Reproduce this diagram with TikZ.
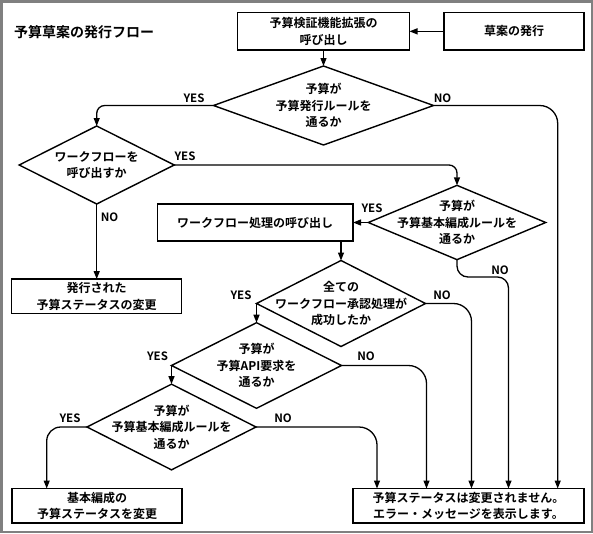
\documentclass[tikz,border=0pt]{standalone}
\usepackage{fontspec}
\setmainfont{Noto Sans CJK JP}[BoldFont={Noto Sans CJK JP Bold}]
\usetikzlibrary{shapes.geometric,arrows.meta}
\begin{document}
\begin{tikzpicture}[x=1pt,y=-1pt,
  txt/.style={font=\fontsize{12}{16.5}\selectfont\bfseries, align=center, inner sep=0pt},
  box/.style={draw, line width=1.4pt, inner sep=0pt, outer sep=0pt, font=\fontsize{12}{16.5}\selectfont\bfseries, align=center},
  dia/.style={draw, diamond, line width=1.4pt, inner sep=0pt, outer sep=0pt},
  lbl/.style={font=\fontsize{11.5}{12}\selectfont\bfseries, inner sep=0pt},
  arr/.style={line width=1.3pt, -{Triangle[length=8pt,width=6pt]}},
  ln/.style={line width=1.3pt}]
\useasboundingbox (0,0) rectangle (593,533);
\draw[line width=2.5pt, draw={rgb,255:red,128;green,128;blue,128}] (1.25,1.25) rectangle (591.75,531.75);

\node[font=\fontsize{14}{16}\selectfont\bfseries, anchor=west, inner sep=0pt] (title) at (14,32) {予算草案の発行フロー};

% boxes
\node[box, minimum width=172pt, minimum height=37.3pt] (b1) at (323.5,31.35) {予算検証機能拡張の\\呼び出し};
\node[box, minimum width=140pt, minimum height=37.3pt] (b2) at (514,31.35) {草案の発行};
\node[box, minimum width=170pt, minimum height=34.3pt] (b3) at (96.7,296.2) {発行された\\予算ステータスの変更};
\node[box, minimum width=195.7pt, minimum height=37pt] (b4) at (255.2,222.5) {ワークフロー処理の呼び出し};
\node[box, minimum width=170pt, minimum height=34.5pt] (b5) at (97,505.75) {基本編成の\\予算ステータスを変更};
\node[box, minimum width=231pt, minimum height=34.5pt] (b6) at (468.5,505.75) {予算ステータスは変更されません。\\エラー・メッセージを表示します。};

% diamonds
\node[dia, minimum width=220pt, minimum height=79pt] (d1) at (323.5,105.5) {};
\node[txt] (d1t) at (d1.center) {予算が\\予算発行ルールを\\通るか};
\node[dia, minimum width=155pt, minimum height=78pt] (d2) at (96.7,165) {};
\node[txt] (d2t) at (d2.center) {ワークフローを\\呼び出すか};
\node[dia, minimum width=177.4pt, minimum height=74.3pt] (d3) at (457,222.5) {};
\node[txt] (d3t) at (d3.center) {予算が\\予算基本編成ルールを\\通るか};
\node[dia, minimum width=169pt, minimum height=86pt] (d4) at (341,303.5) {};
\node[txt] (d4t) at (d4.center) {全ての\\ワークフロー承認処理が\\成功したか};
\node[dia, minimum width=170pt, minimum height=85.6pt] (d5) at (256.5,365.5) {};
\node[txt] (d5t) at (d5.center) {予算が\\予算API要求を\\通るか};
\node[dia, minimum width=169pt, minimum height=85.7pt] (d6) at (171.5,427) {};
\node[txt] (d6t) at (d6.center) {予算が\\予算基本編成ルールを\\通るか};

% helper x positions
\coordinate (xa) at (46.7,0);
\coordinate (xb) at (377,0);
\coordinate (xc) at (426.5,0);
\coordinate (xd) at (471.5,0);
\coordinate (xe) at (508.5,277);
\coordinate (xf) at (557.7,0);

% connectors
\draw[arr] (b2.west) -- (b1.east);
\draw[arr] (b1.south) -- (d1.north);
\draw[arr, rounded corners=8pt] (d1.west) -| (d2.north);
\draw[arr, rounded corners=18pt] (d1.east) -| (b6.north -| xf);
\draw[arr, rounded corners=8pt] (d2.east) -| (d3.north);
\draw[arr] (d2.south) -- (b3.north);
\draw[arr] (d3.west) -- (b4.east);
\draw[arr, rounded corners=11pt] (d3.south) |- (xe) -- (b6.north -| xe);
\draw[arr] (b4.south -| d4.north) -- (d4.north);
\draw[arr] (d4.west) -- (d5.north);
\draw[arr, rounded corners=18pt] (d4.east) -| (b6.north -| xd);
\draw[arr] (d5.west) -- (d6.north);
\draw[arr, rounded corners=18pt] (d5.east) -| (b6.north -| xc);
\draw[arr, rounded corners=14pt] (d6.west) -| (b5.north -| xa);
\draw[arr, rounded corners=18pt] (d6.east) -| (b6.north -| xb);

% labels
\node[lbl] (l1) at (194,98) {YES};
\node[lbl] (l2) at (442.5,98) {NO};
\node[lbl] (l3) at (185,156) {YES};
\node[lbl] (l4) at (109.5,217) {NO};
\node[lbl] (l5) at (372,208) {YES};
\node[lbl] (l6) at (500,270) {NO};
\node[lbl] (l7) at (241,295) {YES};
\node[lbl] (l8) at (442,295) {NO};
\node[lbl] (l9) at (157.5,356.7) {YES};
\node[lbl] (l10) at (366,356.7) {NO};
\node[lbl] (l11) at (70,418.3) {YES};
\node[lbl] (l12) at (283,418.3) {NO};
\end{tikzpicture}
\end{document}
